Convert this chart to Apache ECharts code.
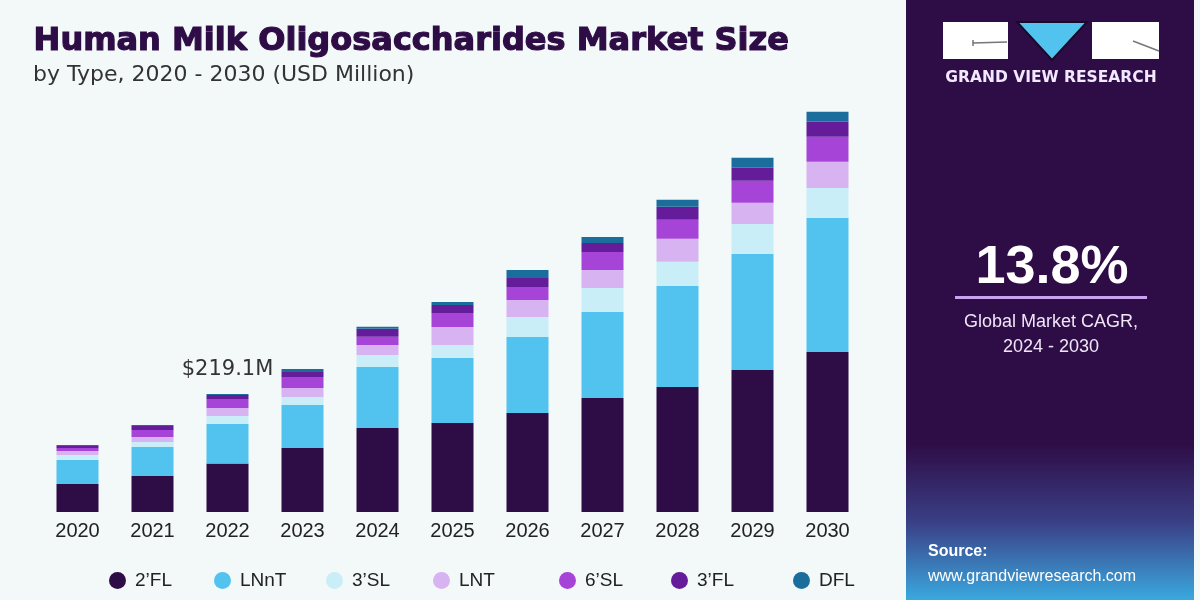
<!DOCTYPE html>
<html><head><meta charset="utf-8">
<script src="https://cdn.jsdelivr.net/npm/echarts@6/dist/echarts.min.js"></script>
<style>html,body{margin:0;padding:0;background:#f3f8f9;}#c{width:1200px;height:600px;}</style>
</head><body><div id="c"></div>
<script>
const years = ['2020','2021','2022','2023','2024','2025','2026','2027','2028','2029','2030'];
const seriesNames = ['2’FL','LNnT','3’SL','LNT','6’SL','3’FL','DFL'];
const fl2  = [52.0, 66.9, 90.0, 118.8, 156.0, 165.3, 183.8, 211.7, 232.1, 263.7, 297.1];
const lnnt = [44.6, 53.9, 73.4, 79.9, 113.3, 120.7, 141.1, 159.7, 187.6, 215.4, 248.8];
const sl3  = [9.3, 9.3, 14.8, 14.9, 22.3, 24.1, 37.1, 44.6, 44.6, 55.7, 55.7];
const lnt  = [7.4, 9.3, 14.8, 16.7, 18.6, 33.4, 31.6, 33.4, 42.7, 39.0, 48.3];
const sl6  = [5.6, 13.0, 16.8, 20.4, 14.9, 26.0, 24.1, 33.4, 35.3, 40.9, 46.4];
const fl3  = [3.7, 7.4, 7.4, 9.3, 14.9, 14.9, 16.7, 16.7, 24.1, 24.1, 27.9];
const dfl  = [1.9, 1.9, 1.9, 5.6, 3.7, 5.6, 14.9, 11.1, 13.0, 18.6, 18.6];
const callout = {index: 2, text: '$219.1M'};
const colors = ['#2e0d46','#52c3ee','#c9eef8','#d8b3f2','#a644d8','#651c9b','#1b6e9c'];
const legendLeft = [104, 209, 321, 428, 554, 666, 788];

const allData = [fl2, lnnt, sl3, lnt, sl6, fl3, dfl];
const series = allData.map((arr, si) => ({
  name: seriesNames[si], type: 'bar', stack: 'total', barWidth: 42,
  itemStyle: {color: colors[si]},
  data: arr.map((v, i) => {
    if (si === allData.length - 1 && i === callout.index) {
      return {value: v, label: {show: true, position: 'top', distance: 14, formatter: callout.text,
        fontFamily: 'DejaVu Sans', fontSize: 21, color: '#333'}};
    }
    return v;
  })
}));

const legends = seriesNames.map((n, i) => ({
  data: [n], left: legendLeft[i], top: 566, icon: 'circle', itemWidth: 17, itemHeight: 17,
  itemGap: 0, selectedMode: false,
  textStyle: {fontFamily: 'Liberation Sans', fontSize: 19, color: '#222', padding: [0,0,0,4]}
}));

const chart = echarts.init(document.getElementById('c'));
chart.setOption({
  backgroundColor: '#f3f8f9',
  animation: false,
  grid: {left: 40, width: 825, top: 81, height: 431},
  xAxis: {type: 'category', data: years, axisLine: {show: false}, axisTick: {show: false},
    axisLabel: {fontFamily: 'Liberation Sans', fontSize: 20, color: '#222', margin: 9}},
  yAxis: {type: 'value', min: 0, max: 800, show: false, splitLine: {show: false}},
  legend: legends,
  series: series,
  graphic: [
    {type: 'text', left: 33, top: 25, style: {text: 'Human Milk Oligosaccharides Market Size',
      font: 'bold 32px "DejaVu Sans"', fill: '#2e0d46', stroke: '#2e0d46', lineWidth: 1.2}},
    {type: 'text', left: 33, top: 64, style: {text: 'by Type, 2020 - 2030 (USD Million)',
      font: '22px "DejaVu Sans"', fill: '#333'}},
    {type: 'rect', shape: {x: 906, y: 0, width: 288, height: 600},
      style: {fill: new echarts.graphic.LinearGradient(0, 0, 0, 1, [
        {offset: 0, color: '#2e0d46'}, {offset: 0.74, color: '#2e0d46'},
        {offset: 0.87, color: '#3a3f86'}, {offset: 1, color: '#3aa9df'}])}},
    {type: 'rect', shape: {x: 943, y: 22, width: 65, height: 37}, style: {fill: '#ffffff'}},
    {type: 'polyline', shape: {points: [[973, 40], [973, 46], [973, 43], [1007, 42]]}, style: {stroke: '#777', lineWidth: 1.5, fill: null}},
    {type: 'polygon', shape: {points: [[1017, 22], [1087, 22], [1052, 60]]}, style: {fill: '#52c3ee', stroke: '#1a0a2a', lineWidth: 2}},
    {type: 'rect', shape: {x: 1092, y: 22, width: 67, height: 37}, style: {fill: '#ffffff'}},
    {type: 'line', shape: {x1: 1133, y1: 41, x2: 1159, y2: 51}, style: {stroke: '#777', lineWidth: 1.5}},
    {type: 'text', x: 1051, y: 78, style: {text: 'GRAND VIEW RESEARCH', font: 'bold 15.5px "DejaVu Sans"',
      fill: '#f2e8ff', align: 'center', verticalAlign: 'middle'}},
    {type: 'text', x: 1052, y: 268, style: {text: '13.8%', font: 'bold 54px "Liberation Sans"',
      fill: '#ffffff', align: 'center', verticalAlign: 'middle'}},
    {type: 'rect', shape: {x: 955, y: 296, width: 192, height: 3}, style: {fill: '#c9a2f0'}},
    {type: 'text', x: 1051, y: 322, style: {text: 'Global Market CAGR,', font: '18px "Liberation Sans"',
      fill: '#efe6f7', align: 'center', verticalAlign: 'middle'}},
    {type: 'text', x: 1051, y: 347, style: {text: '2024 - 2030', font: '18px "Liberation Sans"',
      fill: '#efe6f7', align: 'center', verticalAlign: 'middle'}},
    {type: 'text', x: 928, y: 552, style: {text: 'Source:', font: 'bold 16px "Liberation Sans"',
      fill: '#ffffff', verticalAlign: 'middle'}},
    {type: 'text', x: 928, y: 577, style: {text: 'www.grandviewresearch.com', font: '16px "Liberation Sans"',
      fill: '#ffffff', verticalAlign: 'middle'}}
  ]
});
</script></body></html>
